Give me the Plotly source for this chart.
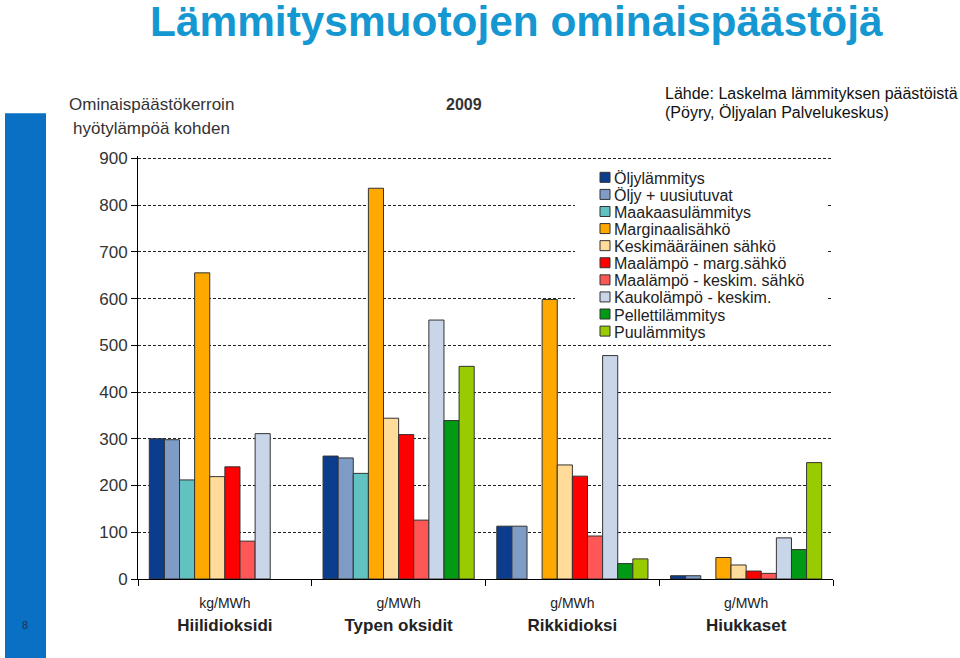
import plotly.graph_objects as go

# ---- data ----
categories = ["Hiilidioksidi", "Typen oksidit", "Rikkidioksi", "Hiukkaset"]
units = ["kg/MWh", "g/MWh", "g/MWh", "g/MWh"]

series_names = [
    "Öljylämmitys", "Öljy + uusiutuvat", "Maakaasulämmitys", "Marginaalisähkö",
    "Keskimääräinen sähkö", "Maalämpö - marg.sähkö", "Maalämpö - keskim. sähkö",
    "Kaukolämpö - keskim.", "Pellettilämmitys", "Puulämmitys",
]
oljy = [300, 263, 113, 7]
oljy_uusiutuvat = [298, 259, 113, 7]
maakaasu = [212, 226, None, None]
marginaalisahko = [655, 836, 598, 46]
keskimaarainen = [219, 344, 244, 30]
maalampo_marg = [240, 309, 220, 17]
maalampo_keskim = [81, 126, 92, 12]
kaukolampo = [311, 554, 478, 88]
pelletti = [None, 339, 33, 63]
puu = [None, 455, 43, 249]
series_values = [oljy, oljy_uusiutuvat, maakaasu, marginaalisahko, keskimaarainen,
                 maalampo_marg, maalampo_keskim, kaukolampo, pelletti, puu]
colors = ["#0B3D8C", "#7F9CC6", "#62C1C1", "#FFA800", "#FFDC9A",
          "#FF0000", "#FF5656", "#C9D5E8", "#009A14", "#99CC00"]

# ---- layout geometry (pixels) ----
W, H = 960, 658
YMAX = 905
L, R, B = 138, 833, 579
T = B - (B - 158) * YMAX / 900.0   # so that 900 sits at y=158


def px(x):
    return (x - L) / (R - L)


def py(y):
    return (B - y) / (B - T)


ticktext = [
    f"<span style='font-size:14px'>{u}</span><br><b>{c}</b>"
    for u, c in zip(units, categories)
]

fig = go.Figure()
for name, vals, col in zip(series_names, series_values, colors):
    fig.add_trace(go.Bar(
        x=categories, y=vals, name=name,
        marker=dict(color=col, line=dict(color="#333333", width=1)),
    ))

fig.update_layout(
    width=W, height=H,
    margin=dict(l=L, r=W - R, t=T, b=H - B, pad=0),
    paper_bgcolor="white", plot_bgcolor="white",
    barmode="group", bargap=0.13, bargroupgap=0,
    font=dict(family="Liberation Sans, Arial, sans-serif", color="#222222"),
    showlegend=False,
    xaxis=dict(
        type="category", tickmode="array", tickvals=categories, ticktext=ticktext,
        tickson="boundaries", ticks="outside", ticklen=6, tickcolor="black",
        showline=True, linecolor="black", linewidth=1, showgrid=False,
        range=[-0.5, 3.5], tickfont=dict(size=17, color="#222222"),
        ticklabelstandoff=8,
    ),
    yaxis=dict(
        range=[0, YMAX], tickmode="array", tickvals=list(range(0, 901, 100)),
        ticks="outside", ticklen=6,
        tickcolor="black", showline=True, linecolor="black", linewidth=1,
        showgrid=True, gridcolor="#222222", gridwidth=1, griddash="3px,2px",
        zeroline=False, tickfont=dict(size=17, color="#333333"),
    ),
)

# slide decoration
fig.add_shape(type="rect", xref="paper", yref="paper",
              x0=px(5), x1=px(46), y0=py(113), y1=py(658),
              fillcolor="#0A70C4", line=dict(width=0), layer="below")

# legend box (white background hiding the gridlines) with swatches
fig.add_shape(type="rect", xref="paper", yref="paper",
              x0=px(575), x1=px(826), y0=py(341), y1=py(166),
              fillcolor="white", line=dict(width=0), layer="above")
LEG_Y0, LEG_STEP = 177, 17.1
for i, (name, col) in enumerate(zip(series_names, colors)):
    cy = LEG_Y0 + i * LEG_STEP
    fig.add_shape(type="rect", xref="paper", yref="paper",
                  x0=px(600), x1=px(610), y0=py(cy + 5), y1=py(cy - 5),
                  fillcolor=col, line=dict(color="#333333", width=1), layer="above")
    fig.add_annotation(text=name, xref="paper", yref="paper", x=px(612), y=py(cy + 1),
                       xanchor="left", yanchor="middle", showarrow=False,
                       font=dict(size=16, color="#222222"))

annotations = [
    dict(text="<b>Lämmitysmuotojen ominaispäästöjä</b>", x=px(148), y=py(21),
         xanchor="left", yanchor="middle",
         font=dict(size=42.4, color="#1597D1", family="Liberation Sans, Arial")),
    dict(text="8", x=px(25), y=py(625), xanchor="center", yanchor="middle",
         font=dict(size=11, color="#1F2F5A")),
    dict(text="Ominaispäästökerroin", x=px(67), y=py(104), xanchor="left", yanchor="middle",
         font=dict(size=17, color="#333333")),
    dict(text="hyötylämpöä kohden", x=px(71), y=py(128), xanchor="left", yanchor="middle",
         font=dict(size=17, color="#333333")),
    dict(text="<b>2009</b>", x=px(444), y=py(104), xanchor="left", yanchor="middle",
         font=dict(size=16, color="#333333")),
    dict(text="Lähde: Laskelma lämmityksen päästöistä", x=px(663), y=py(93),
         xanchor="left", yanchor="middle", font=dict(size=16, color="#111111")),
    dict(text="(Pöyry, Öljyalan Palvelukeskus)", x=px(663), y=py(112),
         xanchor="left", yanchor="middle", font=dict(size=16, color="#111111")),
]
for a in annotations:
    fig.add_annotation(xref="paper", yref="paper", showarrow=False, **a)

fig.write_html(
    "out.html",
    config={"displayModeBar": False},
    post_script="document.body.style.margin='0';document.body.style.overflow='hidden';",
)
